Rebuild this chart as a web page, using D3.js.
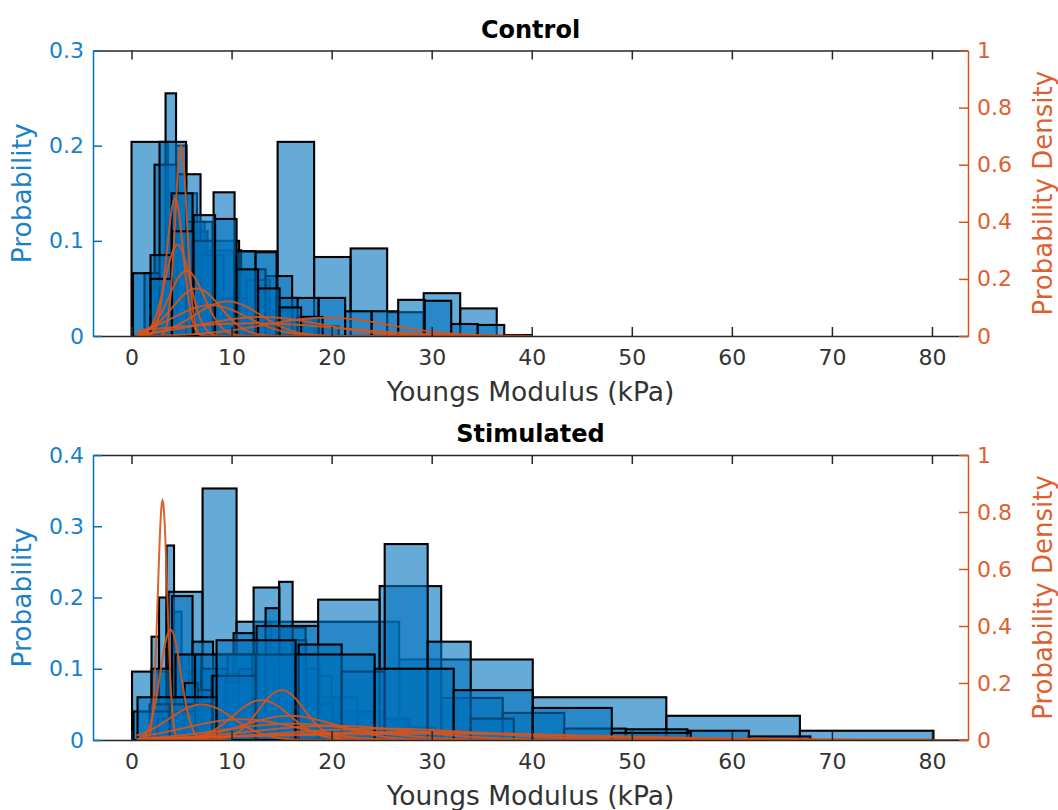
<!DOCTYPE html>
<html>
<head>
<meta charset="utf-8">
<script src="https://cdn.jsdelivr.net/npm/d3@7"></script>
<style>
  body { margin: 0; background: #fff; }
  text { font-family: "DejaVu Sans", sans-serif; }
</style>
</head>
<body>
<svg id="chart" width="1058" height="810"></svg>
<script>
// ---------- shared axis ticks ----------
const xTicks = [0, 10, 20, 30, 40, 50, 60, 70, 80];
const densityTicks = [0, 0.2, 0.4, 0.6, 0.8, 1];
const densityTickLabels = ["0", "0.2", "0.4", "0.6", "0.8", "1"];

// ---------- Control: one histogram per sample (bin start, bin width, probabilities) ----------
const controlTicks = [0, 0.1, 0.2, 0.3];
const controlTickLabels = ["0", "0.1", "0.2", "0.3"];
const controlStart = [0, 1.3, 2.3, 0.15, 1.9, 1.9];
const controlWidth = [3.65, 1.05, 2.3, 2.65, 2.1, 2.15];
const controlProb = [
  [0.204, 0.12, 0.09, 0.089, 0.204, 0.083, 0.092, 0.025, 0.045, 0.029],
  [0.066, 0.085, 0.255, 0.2, 0.15, 0.11, 0.06, 0.04, 0.025, 0.015],
  [0.18, 0.17, 0.085, 0.04, 0.059, 0.027, 0.015, 0.01],
  [0.066, 0.204, 0.12, 0.1, 0.07, 0.063, 0.04, 0.04, 0.026, 0.026, 0.038, 0.037, 0.0126, 0.0116, 0.001],
  [0.085, 0.15, 0.1, 0.151, 0.089, 0.088, 0.04, 0.02],
  [0.06, 0.11, 0.127, 0.123, 0.07, 0.05, 0.03, 0.02]
];
// normal fits per sample: mean, sd, and the data range they are drawn over
const controlFitMean = [4.95, 4.35, 4.6, 5.5, 6.5, 9.6, 7.9, 13, 19.5, 12];
const controlFitSd   = [0.6, 0.83, 1.25, 1.75, 2.4, 3.3, 3.7, 6, 6.2, 9];
const controlFitMin  = [0.3, 0.4, 0.5, 0.6, 0.8, 1.2, 0.5, 1.5, 3, 1];
const controlFitMax  = [12, 14, 16, 20, 24, 30, 28, 36, 37, 40];

// ---------- Stimulated ----------
const stimTicks = [0, 0.1, 0.2, 0.3, 0.4];
const stimTickLabels = ["0", "0.1", "0.2", "0.3", "0.4"];
const stimStart = [0.05, 2.0, 3.7, 2.0, 1.8, 2.6, 0.2, 3.8, 0.6];
const stimWidth = [13.35, 0.75, 3.4, 2.05, 2.6, 1.35, 6.15, 4.3, 7.9];
const stimProb = [
  [0.096, 0.166, 0.113, 0.06, 0.034, 0.013],
  [0.145, 0.2, 0.273, 0.18, 0.12, 0.06, 0.02],
  [0.208, 0.353, 0.166, 0.1, 0.06, 0.04, 0.03, 0.01],
  [0.1, 0.202, 0.138, 0.12, 0.15, 0.11, 0.08, 0.05, 0.03, 0.02],
  [0.05, 0.12, 0.1, 0.12, 0.214, 0.158, 0.09, 0.06, 0.04, 0.03, 0.018],
  [0.03, 0.06, 0.08, 0.07, 0.09, 0.08, 0.1, 0.12, 0.185, 0.222, 0.14, 0.1, 0.05],
  [0.04, 0.12, 0.16, 0.197, 0.216, 0.059, 0.038, 0.016, 0.015, 0.013, 0.005],
  [0.05, 0.09, 0.12, 0.134, 0.096, 0.275, 0.138, 0.03],
  [0.06, 0.14, 0.12, 0.1, 0.07, 0.045, 0.01]
];
const stimFitMean = [3.1, 3.9, 7.0, 13.0, 15.0, 11, 16, 15.8, 20, 25, 28, 30];
const stimFitSd   = [0.475, 1.03, 3.2, 2.85, 2.28, 5.5, 7, 4.7, 8, 10, 14, 18];
const stimFitMin  = [0.5, 0.8, 0.5, 2, 2, 1, 1.5, 2, 2, 1, 0.5, 1];
const stimFitMax  = [8, 10, 30, 35, 35, 45, 55, 40, 60, 70, 80, 84];

// ---------- drawing ----------
const blue = "#0072BD", orange = "#D95319", axisGray = "#262626";
const blueText = "#1a80c8", orangeText = "#dd6130";
const svg = d3.select("#chart");
const left = 93, right = 968;
const x = d3.scaleLinear().domain([-3.85, 83.6]).range([left, right]);

function normalPdf(v, m, s) {
  return Math.exp(-0.5 * ((v - m) / s) ** 2) / (s * Math.sqrt(2 * Math.PI));
}

function drawPanel(cfg) {
  const { top, bottom, title, yMax, yTicks, yTickLabels, starts, widths, probs,
          fitMean, fitSd, fitMin, fitMax, id } = cfg;
  const y = d3.scaleLinear().domain([0, yMax]).range([bottom, top]);
  const yD = d3.scaleLinear().domain([0, 1]).range([bottom, top]);
  const g = svg.append("g");

  g.append("clipPath").attr("id", id).append("rect")
    .attr("x", left).attr("y", top).attr("width", right - left).attr("height", bottom - top);

  // histograms
  const bars = g.append("g").attr("clip-path", `url(#${id})`);
  probs.forEach((ps, h) => {
    const bins = ps.map((p, i) => ({
      x0: starts[h] + i * widths[h],
      x1: starts[h] + (i + 1) * widths[h],
      p
    }));
    bars.append("g").selectAll("rect").data(bins).join("rect")
      .attr("x", d => x(d.x0))
      .attr("width", d => x(d.x1) - x(d.x0))
      .attr("y", d => y(d.p))
      .attr("height", d => y(0) - y(d.p))
      .attr("fill", blue).attr("fill-opacity", 0.6)
      .attr("stroke", "#000").attr("stroke-width", 2.1);
  });

  // fitted densities on the right axis
  const line = d3.line().x(d => x(d[0])).y(d => yD(d[1]));
  fitMean.forEach((m, k) => {
    const pts = d3.range(fitMin[k], fitMax[k], 0.05).map(v => [v, normalPdf(v, m, fitSd[k])]);
    bars.append("path").datum(pts).attr("d", line)
      .attr("fill", "none").attr("stroke", orange).attr("stroke-width", 2)
      .attr("stroke-opacity", 0.9);
  });

  // x axis (bottom, labelled) and its mirror on top
  const xb = g.append("g").attr("transform", `translate(0,${bottom})`)
    .call(d3.axisBottom(x).tickValues(xTicks).tickSize(-9).tickSizeOuter(0).tickPadding(13));
  const xt = g.append("g").attr("transform", `translate(0,${top})`)
    .call(d3.axisTop(x).tickValues(xTicks).tickSize(-9).tickSizeOuter(0).tickFormat(""));
  [xb, xt].forEach(a => {
    a.selectAll("path,line").attr("stroke", axisGray).attr("stroke-width", 1.5);
    a.selectAll("text").attr("fill", "#333").style("font-size", "22px")
      .style("font-family", "DejaVu Sans");
  });

  // left probability axis
  const yl = g.append("g").attr("transform", `translate(${left},0)`)
    .call(d3.axisLeft(y).tickValues(yTicks).tickSize(-9).tickSizeOuter(0).tickPadding(9)
      .tickFormat((d, i) => yTickLabels[i]));
  yl.selectAll("path,line").attr("stroke", blue).attr("stroke-width", 1.5);
  yl.selectAll("text").attr("fill", blueText).style("font-size", "22px").style("font-family", "DejaVu Sans");

  // right density axis
  const yr = g.append("g").attr("transform", `translate(${right},0)`)
    .call(d3.axisRight(yD).tickValues(densityTicks).tickSize(-9).tickSizeOuter(0).tickPadding(9)
      .tickFormat((d, i) => densityTickLabels[i]));
  yr.selectAll("path,line").attr("stroke", orange).attr("stroke-width", 1.5);
  yr.selectAll("text").attr("fill", orangeText).style("font-size", "22px").style("font-family", "DejaVu Sans");

  // titles and labels
  const mid = (top + bottom) / 2;
  g.append("text").attr("x", (left + right) / 2).attr("y", top - 13)
    .attr("text-anchor", "middle").attr("font-weight", "bold").style("font-size", "24px")
    .attr("fill", "#000").text(title);
  g.append("text").attr("x", (left + right) / 2).attr("y", bottom + 65)
    .attr("text-anchor", "middle").style("font-size", "26.5px").attr("fill", "#333")
    .text("Youngs Modulus (kPa)");
  g.append("text").attr("transform", `translate(31,${mid}) rotate(-90)`)
    .attr("text-anchor", "middle").style("font-size", "26.5px").attr("fill", blueText)
    .text("Probability");
  g.append("text").attr("transform", `translate(1033,${mid}) rotate(-90)`)
    .attr("text-anchor", "middle").attr("dominant-baseline", "hanging").style("font-size", "26px")
    .attr("fill", orangeText).text("Probability Density");
}

drawPanel({
  id: "clipControl", top: 50.5, bottom: 336, title: "Control",
  yMax: 0.3, yTicks: controlTicks, yTickLabels: controlTickLabels,
  starts: controlStart, widths: controlWidth, probs: controlProb,
  fitMean: controlFitMean, fitSd: controlFitSd, fitMin: controlFitMin, fitMax: controlFitMax
});
drawPanel({
  id: "clipStim", top: 455, bottom: 740, title: "Stimulated",
  yMax: 0.4, yTicks: stimTicks, yTickLabels: stimTickLabels,
  starts: stimStart, widths: stimWidth, probs: stimProb,
  fitMean: stimFitMean, fitSd: stimFitSd, fitMin: stimFitMin, fitMax: stimFitMax
});
</script>
</body>
</html>
